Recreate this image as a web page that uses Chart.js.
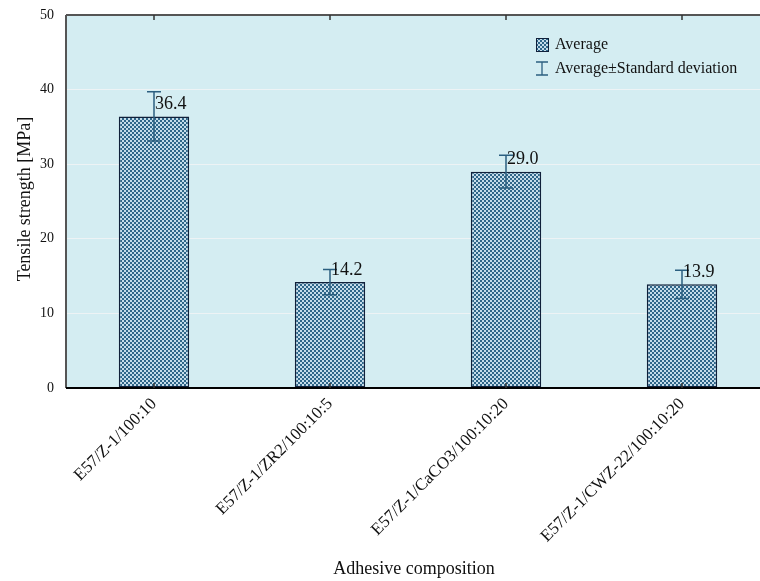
<!DOCTYPE html>
<html>
<head>
<meta charset="utf-8">
<script src="https://cdn.jsdelivr.net/npm/chart.js@4"></script>
<style>
html,body{margin:0;padding:0;background:#fff;overflow:hidden;}
#wrap{width:770px;height:581px;position:relative;}
</style>
</head>
<body>
<div id="wrap"><canvas id="c"></canvas></div>
<script>
const categories = ["E57/Z-1/100:10", "E57/Z-1/ZR2/100:10:5", "E57/Z-1/CaCO3/100:10:20", "E57/Z-1/CWZ-22/100:10:20"];
const averages = [36.4, 14.2, 29.0, 13.9];
const stdDevs = [3.3, 1.7, 2.2, 1.9];
const valueLabels = ["36.4", "14.2", "29.0", "13.9"];
const yTicks = [0, 10, 20, 30, 40, 50];
const legendLabels = ["Average", "Average\u00B1Standard deviation"];
const xTitle = "Adhesive composition";
const yTitle = "Tensile strength [MPa]";

const SERIF = "'Liberation Serif', 'DejaVu Serif', serif";

function makePattern(){
  const p = document.createElement('canvas');
  p.width = 4; p.height = 4;
  const g = p.getContext('2d');
  g.fillStyle = '#c4dcea'; g.fillRect(0,0,4,4);
  g.fillStyle = '#2f6689'; g.fillRect(0,0,2,2); g.fillRect(2,2,2,2);
  return document.getElementById('c').getContext('2d').createPattern(p,'repeat');
}
const pattern = makePattern();

const decor = {
  id: 'decor',
  beforeDraw(chart){
    const {ctx, chartArea:a} = chart;
    ctx.save();
    ctx.fillStyle = '#d4edf2';
    ctx.fillRect(a.left, a.top, a.right - a.left, a.bottom - a.top);
    ctx.restore();
  },
  afterDatasetsDraw(chart){
    const {ctx, chartArea:a, scales:{x, y}} = chart;
    ctx.save();
    // borders
    ctx.strokeStyle = '#555';
    ctx.lineWidth = 2;
    ctx.beginPath(); ctx.moveTo(a.left, a.top); ctx.lineTo(a.right, a.top); ctx.stroke();
    ctx.beginPath(); ctx.moveTo(a.left, a.top); ctx.lineTo(a.left, a.bottom); ctx.stroke();
    ctx.strokeStyle = '#000';
    ctx.beginPath(); ctx.moveTo(a.left, a.bottom); ctx.lineTo(a.right, a.bottom); ctx.stroke();
    // inner ticks on top/bottom
    ctx.strokeStyle = '#333'; ctx.lineWidth = 1.5;
    categories.forEach((c,i)=>{
      const px = x.getPixelForValue(i);
      ctx.beginPath(); ctx.moveTo(px, a.top); ctx.lineTo(px, a.top+5); ctx.stroke();
      ctx.beginPath(); ctx.moveTo(px, a.bottom); ctx.lineTo(px, a.bottom-5); ctx.stroke();
    });
    // error bars
    ctx.strokeStyle = '#2b5f80'; ctx.lineWidth = 1.5;
    averages.forEach((v,i)=>{
      const px = x.getPixelForValue(i);
      const hi = y.getPixelForValue(v + stdDevs[i]);
      const lo = y.getPixelForValue(v - stdDevs[i]);
      ctx.beginPath();
      ctx.moveTo(px, hi); ctx.lineTo(px, lo);
      ctx.moveTo(px-7, hi); ctx.lineTo(px+7, hi);
      ctx.moveTo(px-7, lo); ctx.lineTo(px+7, lo);
      ctx.stroke();
    });
    // value labels
    ctx.fillStyle = '#111';
    ctx.font = '18px ' + SERIF;
    ctx.textAlign = 'left'; ctx.textBaseline = 'middle';
    averages.forEach((v,i)=>{
      const px = x.getPixelForValue(i);
      ctx.fillText(valueLabels[i], px + 1, y.getPixelForValue(v) - 12);
    });
    // legend
    const lx = 536, ly = 38;
    ctx.fillStyle = pattern; ctx.fillRect(lx, ly, 12, 13);
    ctx.strokeStyle = '#10203a'; ctx.lineWidth = 1; ctx.strokeRect(lx+0.5, ly+0.5, 12, 13);
    ctx.fillStyle = '#111'; ctx.font = '16px ' + SERIF;
    ctx.fillText(legendLabels[0], 555, 45);
    ctx.strokeStyle = '#2b5f80'; ctx.lineWidth = 1.3;
    const ex = 542, e1 = 62, e2 = 75;
    ctx.beginPath();
    ctx.moveTo(ex, e1); ctx.lineTo(ex, e2);
    ctx.moveTo(ex-6, e1); ctx.lineTo(ex+6, e1);
    ctx.moveTo(ex-6, e2); ctx.lineTo(ex+6, e2);
    ctx.stroke();
    ctx.fillText(legendLabels[1], 555, 69);
    // axis titles
    ctx.font = '18px ' + SERIF;
    ctx.textAlign = 'center'; ctx.textBaseline = 'middle';
    ctx.fillText(xTitle, 414, 569);
    ctx.translate(25, 199); ctx.rotate(-Math.PI/2);
    ctx.fillText(yTitle, 0, 0);
    ctx.restore();
  }
};

new Chart(document.getElementById('c'), {
  type: 'bar',
  data: {
    labels: categories,
    datasets: [{
      label: legendLabels[0],
      data: averages,
      backgroundColor: pattern,
      borderColor: '#10203a',
      borderWidth: 1.5,
      borderSkipped: false,
      barPercentage: 0.4,
      categoryPercentage: 1.0
    }]
  },
  options: {
    responsive: true,
    maintainAspectRatio: false,
    animation: false,
    devicePixelRatio: 1,
    layout: { padding: { top: 15, right: 0, left: 0, bottom: 0 } },
    plugins: { legend: { display: false }, tooltip: { enabled: false } },
    scales: {
      x: {
        grid: { display: false, drawTicks: false },
        border: { display: false },
        ticks: {
          color: '#111', font: { family: SERIF, size: 17 },
          minRotation: 45, maxRotation: 45, padding: 6
        },
        afterFit(s){ s.height = 193; s.paddingLeft = 0; s.paddingRight = 0; }
      },
      y: {
        min: 0, max: 50,
        afterBuildTicks(s){ s.ticks = yTicks.map(v=>({value:v})); },
        grid: { color: '#edf3f5', lineWidth: 1, drawTicks: false },
        border: { display: false },
        ticks: { color: '#111', font: { family: SERIF, size: 14 }, padding: 12 },
        afterFit(s){ s.width = 66; s.paddingTop = 0; s.paddingBottom = 0; }
      }
    }
  },
  plugins: [decor]
});
</script>
</body>
</html>
